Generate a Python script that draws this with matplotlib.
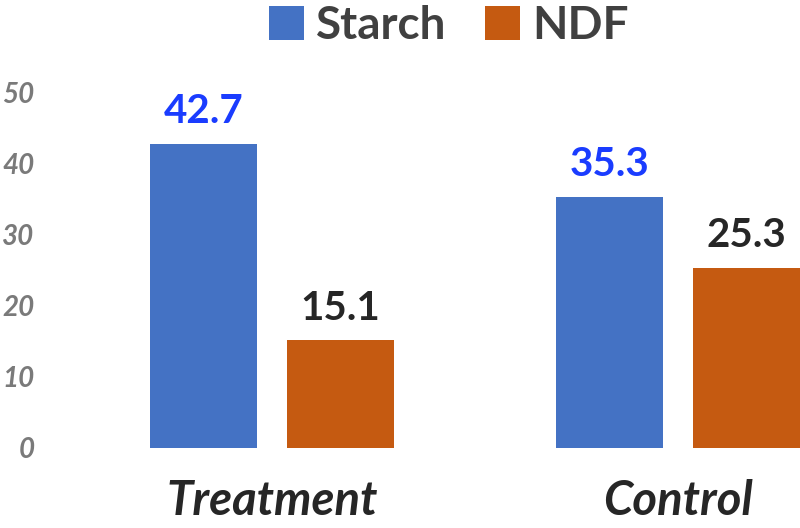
import matplotlib.pyplot as plt
import numpy as np
from matplotlib.patches import Patch

# Data
groups = ['Treatment', 'Control']
series = ['Starch', 'NDF']
starch = [42.7, 35.3]
ndf = [15.1, 25.3]
yticks = [0, 10, 20, 30, 40, 50]

colors = ['#4472C4', '#C55A11']
label_colors = ['#1A3CFF', '#262626']

plt.rcParams['font.family'] = ['Lato', 'DejaVu Sans']

fig = plt.figure(figsize=(8, 5.28), dpi=100)
ax = fig.add_axes([0.05, 80 / 528, 0.95, 356 / 528])

x = np.arange(len(groups))
width = 0.2635
offset = 0.169

for vals, off, col, lcol in zip([starch, ndf], [-offset, offset], colors, label_colors):
    bars = ax.bar(x + off, vals, width, color=col)
    for b, v in zip(bars, vals):
        ax.annotate(f'{v:.1f}', (b.get_x() + b.get_width() / 2, v),
                    xytext=(0, 15), textcoords='offset points',
                    ha='center', va='baseline', fontsize=29,
                    fontweight='bold', color=lcol, annotation_clip=False)

ax.set_xlim(-0.5714, 1.3005)
ax.set_ylim(0, 50)
ax.set_yticks(yticks)
ax.set_yticklabels([str(t) for t in yticks], fontsize=20, fontweight='bold',
                   fontstyle='italic', color='#7A7A7A')
ax.set_xticks(x)
ax.set_xticklabels(groups, fontsize=34, fontweight='bold', fontstyle='italic',
                   color='#262626')
ax.tick_params(axis='both', length=0)
ax.tick_params(axis='y', pad=4)
ax.tick_params(axis='x', pad=22)
for s in ax.spines.values():
    s.set_visible(False)

handles = [Patch(facecolor=c, label=s) for c, s in zip(colors, series)]
fig.legend(handles=handles, loc='upper center', bbox_to_anchor=(449 / 800, 1.0),
           ncol=2, frameon=False, labelcolor='#404040',
           prop={'weight': 'bold', 'size': 33},
           handlelength=0.76, handleheight=0.76, handletextpad=0.28,
           columnspacing=0.83, borderpad=0.0, borderaxespad=0.1)

fig.savefig('out.png', dpi=100)
